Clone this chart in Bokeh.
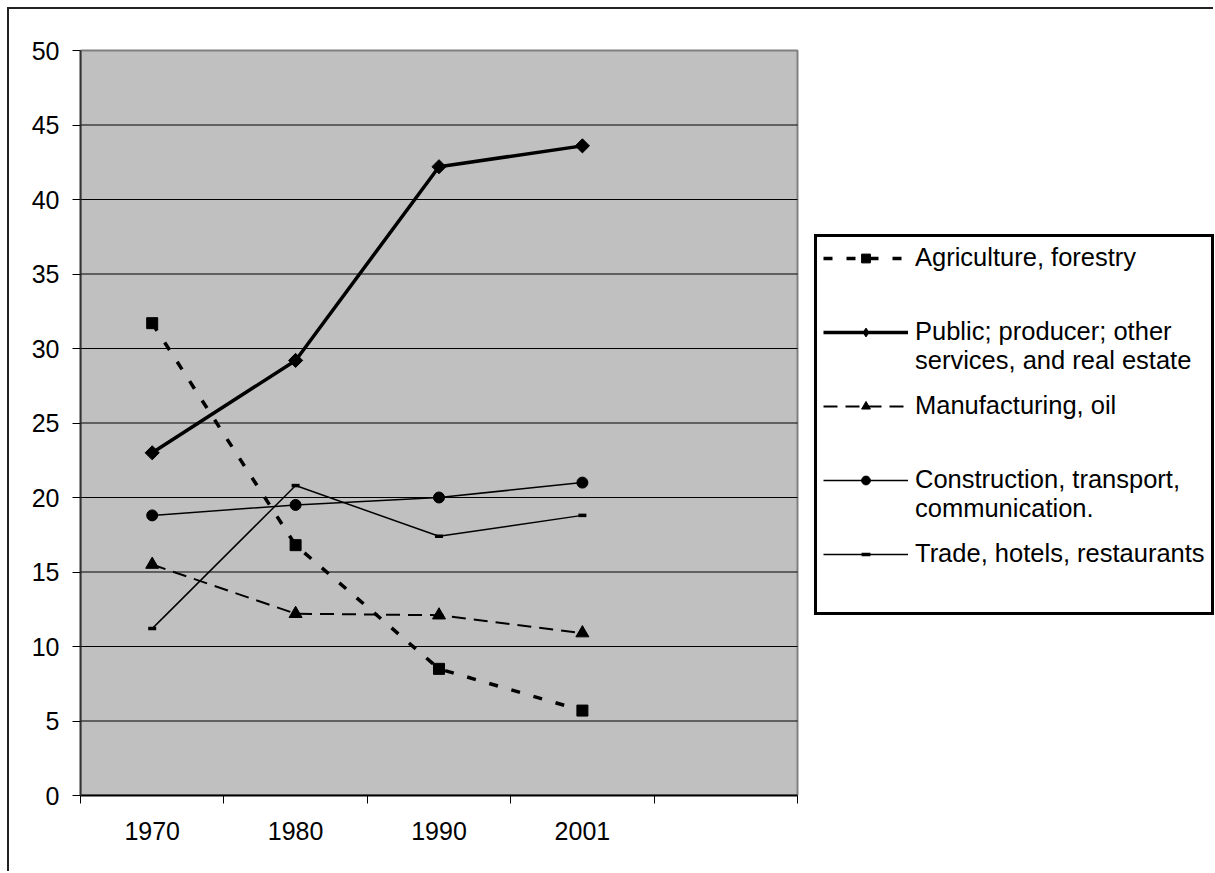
from bokeh.plotting import figure
from bokeh.models import Range1d, FixedTicker, Legend, LegendItem
from bokeh.embed import file_html
from bokeh.resources import INLINE

years = ["1970", "1980", "1990", "2001"]
agriculture = [31.7, 16.8, 8.5, 5.7]
public = [23.0, 29.2, 42.2, 43.6]
manufacturing = [15.5, 12.2, 12.1, 10.9]
construction = [18.8, 19.5, 20.0, 21.0]
trade = [11.2, 20.8, 17.4, 18.8]
y_ticks = [0, 5, 10, 15, 20, 25, 30, 35, 40, 45, 50]
n_slots = 5

# two-line names get a blank line on top so that the legend symbol sits on the first line
names = ["Agriculture, forestry",
         "\u00a0\nPublic; producer; other\nservices, and real estate",
         "Manufacturing, oil",
         "\u00a0\nConstruction, transport,\ncommunication.",
         "Trade, hotels, restaurants"]

FONT = "Liberation Sans"
OFF = 9  # offset of the figure inside the page (outer frame drawn with CSS)
W, H = 1215 - OFF, 873 - OFF

# page pixel geometry of the plotting area
PL, PR, PT, PB = 80, 797, 50, 795
FRAME_TOP = 45
y_max = y_ticks[-1]
x_end = n_slots * (1215 - PL) / (PR - PL)          # frame extends to the page edge
y_end = y_max * (PB - FRAME_TOP) / (PB - PT)

x = [i + 0.5 for i in range(len(years))]

p = figure(width=W, height=H, output_backend="svg", toolbar_location=None,
           x_range=Range1d(0, x_end), y_range=Range1d(0, y_end),
           min_border_left=PL - OFF, min_border_right=0, min_border_top=FRAME_TOP - OFF,
           min_border_bottom=873 - PB,
           background_fill_color="white", border_fill_color="white")
p.margin = (7, 0, 0, 7)
p.styles = {"border-top": "2px solid #222222", "border-left": "2px solid #222222"}
p.outline_line_color = None
p.xgrid.visible = False
p.ygrid.visible = False

# grey plotting area and horizontal gridlines
p.quad(left=[0], right=[n_slots], bottom=[y_ticks[0]], top=[y_max],
       fill_color="#C0C0C0", line_color="#808080", line_width=2)
grid_y = y_ticks[1:-1]
p.segment(x0=[0] * len(grid_y), x1=[n_slots] * len(grid_y), y0=grid_y, y1=grid_y,
          line_color="black", line_width=1)

ya = p.yaxis[0]
ya.bounds = (y_ticks[0], y_max)
ya.ticker = FixedTicker(ticks=y_ticks, minor_ticks=[])
ya.major_tick_out = 8
ya.major_tick_in = 0
ya.major_tick_line_color = "black"
ya.minor_tick_line_color = None
ya.axis_line_color = "#333333"
ya.axis_line_width = 2
ya.major_label_standoff = 13
ya.major_label_text_font = FONT
ya.major_label_text_font_size = "25px"
ya.major_label_text_color = "black"

xa = p.xaxis[0]
xa.bounds = (0, n_slots)
xa.ticker = FixedTicker(ticks=x, minor_ticks=list(range(n_slots + 1)))
xa.major_label_overrides = {xv: yr for xv, yr in zip(x, years)}
xa.major_tick_line_color = None
xa.major_tick_out = 8
xa.major_tick_in = 0
xa.minor_tick_out = 8
xa.minor_tick_in = 0
xa.minor_tick_line_color = "black"
xa.axis_line_color = "black"
xa.axis_line_width = 2
xa.major_label_standoff = 18
xa.major_label_text_font = FONT
xa.major_label_text_font_size = "25px"
xa.major_label_text_color = "black"

# (values, line style, marker in plot, marker shown in legend)
series = [
    (agriculture, dict(line_width=3.5, line_dash="9 14"), dict(marker="square", size=11), None),
    (public, dict(line_width=3.5), dict(marker="square", size=10, angle=0.785398), "diamond"),
    (manufacturing, dict(line_width=2, line_dash="14 8"), dict(marker="triangle", size=13), None),
    (construction, dict(line_width=1.5), dict(marker="circle", size=11), None),
    (trade, dict(line_width=1.5), dict(marker="dash", size=8, line_width=3.5), None),
]

items = []
for name, (vals, lkw, mkw, leg_marker) in zip(names, series):
    lr = p.line(x, vals, line_color="black", **lkw)
    mr = p.scatter(x, vals, color="black", **mkw)
    if leg_marker:
        # legend-only symbol (legend symbols are never rotated); its point lies outside the view
        lm = p.scatter([-x_end], [-y_end], marker=leg_marker, color="black")
        items.append(LegendItem(label=name, renderers=[lr, lm]))
    else:
        items.append(LegendItem(label=name, renderers=[lr, mr]))

# empty trailing entry: blank space at the bottom of the legend box
blank = p.line([], [], line_alpha=0)
items.append(LegendItem(label="", renderers=[blank]))

legend = Legend(items=items, location=(814 - PL, PB - 615),
                border_line_color="black", border_line_width=3, border_line_alpha=1,
                background_fill_color="white", background_fill_alpha=1,
                padding=6, margin=0, spacing=16,
                glyph_width=85, glyph_height=22, label_height=22, label_standoff=7,
                label_text_font=FONT, label_text_font_size="25.5px",
                label_text_color="black")
p.add_layout(legend, "center")

open("out.html", "w").write(file_html(p, INLINE))
